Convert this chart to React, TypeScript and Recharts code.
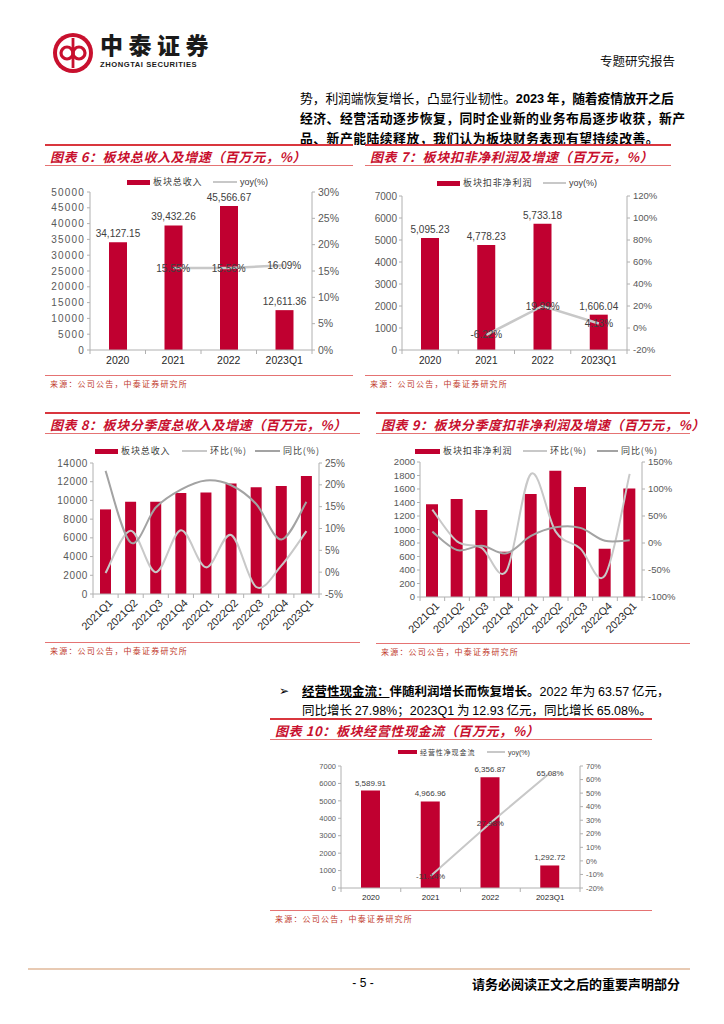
import React from 'react';
import { ComposedChart, Bar, Line, XAxis, YAxis, LabelList } from 'recharts';

// ---------------- data ----------------
const annualCategories = ['2020', '2021', '2022', '2023Q1'];
const quarterCategories = ['2021Q1', '2021Q2', '2021Q3', '2021Q4', '2022Q1', '2022Q2', '2022Q3', '2022Q4', '2023Q1'];

const totalRevenue = [34127.15, 39432.26, 45566.67, 12611.36];
const totalRevenueYoy = [null, 15.55, 15.56, 16.09];

const netProfit = [5095.23, 4778.23, 5733.18, 1606.04];
const netProfitYoy = [null, -6.22, 19.99, 4.13];

const quarterRevenue = [9040, 9850, 9850, 10800, 10850, 11800, 11400, 11550, 12611.36];
const quarterRevenueQoq = [-0.2, 9.5, 0.0, 9.6, 1.1, 8.5, -3.4, 1.5, 9.4];
const quarterRevenueYoy = [23.2, 6.8, 14.8, 18.9, 21.0, 19.9, 15.6, 7.5, 16.09];

const quarterProfit = [1373, 1452, 1289, 671, 1526, 1871, 1630, 715, 1606.04];
const quarterProfitQoq = [62, 3, -9, -52, 128, 21, -10, -60, 128];
const quarterProfitYoy = [21, -13, -5, -19, 13, 29, 28, 4, 5];

const operatingCash = [5589.91, 4966.96, 6356.87, 1292.72];
const operatingCashYoy = [null, -11.14, 27.98, 65.08];

const ticks6L = [0, 5000, 10000, 15000, 20000, 25000, 30000, 35000, 40000, 45000, 50000];
const ticks6R = [0, 5, 10, 15, 20, 25, 30];
const ticks7L = [0, 1000, 2000, 3000, 4000, 5000, 6000, 7000];
const ticks7R = [-20, 0, 20, 40, 60, 80, 100, 120];
const ticks8L = [0, 2000, 4000, 6000, 8000, 10000, 12000, 14000];
const ticks8R = [-5, 0, 5, 10, 15, 20, 25];
const ticks9L = [0, 200, 400, 600, 800, 1000, 1200, 1400, 1600, 1800, 2000];
const ticks9R = [-100, -50, 0, 50, 100, 150];
const ticks10L = [0, 1000, 2000, 3000, 4000, 5000, 6000, 7000];
const ticks10R = [-20, -10, 0, 10, 20, 30, 40, 50, 60, 70];

// ---------------- styles ----------------
const RED = '#c00030';
const TITLE_RED = '#c8102e';
const LINE_RED = '#d9363e';
const THIN_RED = '#e57373';
const AXIS = '#b0b0b0';
const TICK = '#595959';
const LABEL = '#404040';
const YOY_GREY = '#c8c8c8';
const DARK_GREY = '#a3a3a3';
const NUM_FONT = '"Liberation Sans", Arial, sans-serif';
const CJK_FONT = '"Noto Sans CJK SC", "Noto Sans", sans-serif';

// Excel-like smoothed line (Catmull-Rom through points)
const excelSmooth: any = (context: any) => {
  let pts: number[][] = [];
  return {
    areaStart() {},
    areaEnd() {},
    lineStart() { pts = []; },
    point(x: number, y: number) { pts.push([+x, +y]); },
    lineEnd() {
      if (!pts.length) return;
      context.moveTo(pts[0][0], pts[0][1]);
      for (let i = 0; i < pts.length - 1; i++) {
        const p0 = pts[i - 1] || pts[i];
        const p1 = pts[i];
        const p2 = pts[i + 1];
        const p3 = pts[i + 2] || p2;
        context.bezierCurveTo(
          p1[0] + (p2[0] - p0[0]) / 6, p1[1] + (p2[1] - p0[1]) / 6,
          p2[0] - (p3[0] - p1[0]) / 6, p2[1] - (p3[1] - p1[1]) / 6,
          p2[0], p2[1]
        );
      }
    },
  };
};

const fmtThousands = (v: any) =>
  typeof v === 'number' ? v.toLocaleString('en-US', { minimumFractionDigits: 2, maximumFractionDigits: 2 }) : '';

const centerLabel = (font: number) => (p: any) => {
  const x = p.x ?? p.viewBox?.x;
  const y = p.y ?? p.viewBox?.y;
  if (p.value == null || x == null || y == null) return null;
  return (
    <text x={x} y={y} dy={font * 0.36} textAnchor="middle" fontSize={font} fill={LABEL} fontFamily={NUM_FONT}>
      {Number(p.value).toFixed(2)}%
    </text>
  );
};

const makeXTick = (band: number, n: number, font: number, rotate: boolean) => (p: any) => {
  const { x, y } = p;
  const idx = p.payload?.index ?? p.index ?? 0;
  const lx = x - band / 2;
  return (
    <g>
      <line x1={lx} y1={y} x2={lx} y2={y + 4} stroke={AXIS} />
      {idx === n - 1 && <line x1={x + band / 2} y1={y} x2={x + band / 2} y2={y + 4} stroke={AXIS} />}
      {rotate ? (
        <text
          x={x + 5}
          y={y + 7}
          dy="0.35em"
          transform={`rotate(-45 ${x + 5} ${y + 7})`}
          textAnchor="end"
          fontSize={font}
          fill="#1f1f1f"
          fontFamily={NUM_FONT}
        >
          {p.payload.value}
        </text>
      ) : (
        <text x={x} y={y + 6} dy={font * 0.8} textAnchor="middle" fontSize={font} fill="#262626" fontFamily={NUM_FONT}>
          {p.payload.value}
        </text>
      )}
    </g>
  );
};

type LineCfg = { key: string; values: (number | null)[]; color: string; smooth?: boolean; labels?: boolean };

type ChartCfg = {
  left: number; top: number; width: number; height: number;
  plotLeft: number; plotRight: number; plotTop: number; plotBottom: number;
  cats: string[]; bars: number[]; lines: LineCfg[];
  ticksL: number[]; ticksR: number[];
  barSize: number; barLabels: boolean;
  fontL: number; fontR: number; lsL?: number; fontX: number; rotate?: boolean; labelFont: number;
  strokeW: number;
};

function FigChart(c: ChartCfg) {
  const data = c.cats.map((cat, i) => {
    const row: any = { cat, bar: c.bars[i] };
    c.lines.forEach((l) => { row[l.key] = l.values[i]; });
    return row;
  });
  const band = (c.plotRight - c.plotLeft) / c.cats.length;
  return (
    <div style={{ position: 'absolute', left: c.left, top: c.top, width: c.width, height: c.height }}>
      <ComposedChart
        width={c.width}
        height={c.height}
        data={data}
        margin={{ top: c.plotTop - c.top, right: 0, bottom: 0, left: 0 }}
      >
        <XAxis
          dataKey="cat"
          height={c.top + c.height - c.plotBottom}
          interval={0}
          tickSize={0}
          tickMargin={0}
          tickLine={false}
          axisLine={{ stroke: AXIS }}
          tick={makeXTick(band, c.cats.length, c.fontX, !!c.rotate)}
        />
        <YAxis
          yAxisId="l"
          width={c.plotLeft - c.left}
          domain={[c.ticksL[0], c.ticksL[c.ticksL.length - 1]]}
          ticks={c.ticksL}
          interval={0}
          tickSize={3}
          tickMargin={2}
          axisLine={{ stroke: AXIS }}
          tickLine={{ stroke: AXIS }}
          tick={{ fill: TICK, fontSize: c.fontL, fontFamily: NUM_FONT, letterSpacing: c.lsL || 0 }}
        />
        <YAxis
          yAxisId="r"
          orientation="right"
          width={c.left + c.width - c.plotRight}
          domain={[c.ticksR[0], c.ticksR[c.ticksR.length - 1]]}
          ticks={c.ticksR}
          interval={0}
          tickSize={3}
          tickMargin={3}
          axisLine={{ stroke: AXIS }}
          tickLine={{ stroke: AXIS }}
          tickFormatter={(v: number) => `${v}%`}
          tick={{ fill: TICK, fontSize: c.fontR, fontFamily: NUM_FONT }}
        />
        <Bar yAxisId="l" dataKey="bar" fill={RED} barSize={c.barSize} isAnimationActive={false}>
          {c.barLabels && (
            <LabelList
              dataKey="bar"
              position="top"
              offset={5}
              formatter={fmtThousands}
              fontSize={c.labelFont}
              fill={LABEL}
              fontFamily={NUM_FONT}
            />
          )}
        </Bar>
        {c.lines.map((l) => (
          <Line
            key={l.key}
            yAxisId="r"
            dataKey={l.key}
            stroke={l.color}
            strokeWidth={c.strokeW}
            type={l.smooth ? excelSmooth : 'linear'}
            dot={false}
            activeDot={false}
            isAnimationActive={false}
          >
            {l.labels && <LabelList dataKey={l.key} content={centerLabel(c.labelFont)} />}
          </Line>
        ))}
      </ComposedChart>
    </div>
  );
}

// ---------------- page helpers ----------------
function Txt(props: { x: number; y: number; size: number; children: any; style?: any; right?: boolean }) {
  const lh = Math.round(props.size * 1.3);
  const pos: any = props.right ? { right: 724 - props.x } : { left: props.x };
  return (
    <div
      style={{
        position: 'absolute',
        top: props.y - lh / 2,
        ...pos,
        fontSize: props.size,
        lineHeight: `${lh}px`,
        whiteSpace: 'nowrap',
        fontFamily: CJK_FONT,
        ...props.style,
      }}
    >
      {props.children}
    </div>
  );
}

function HLine({ x1, x2, y, h, color }: { x1: number; x2: number; y: number; h: number; color: string }) {
  return <div style={{ position: 'absolute', left: x1, top: y - h / 2, width: x2 - x1, height: h, background: color }} />;
}

function Block({ x1, x2, topY, title, bottomY }: { x1: number; x2: number; topY: number; title: string; bottomY: number }) {
  return (
    <>
      <HLine x1={x1} x2={x2} y={topY} h={2} color={LINE_RED} />
      <Txt x={x1 + 5} y={topY + 11} size={13} style={{ color: TITLE_RED, fontWeight: 700, fontStyle: 'italic', letterSpacing: 0.6 }}>
        {title}
      </Txt>
      <HLine x1={x1} x2={x2} y={topY + 20} h={1} color={THIN_RED} />
      <HLine x1={x1} x2={x2} y={bottomY} h={1} color={THIN_RED} />
      <Txt x={x1 + 5} y={bottomY + 9} size={8} style={{ color: '#c0392b', letterSpacing: 1.2 }}>
        来源：公司公告，中泰证券研究所
      </Txt>
    </>
  );
}

type LegItem = { kind: 'bar' | 'line'; color: string; x1: number; x2: number; label: string };

function LegendRow({ y, items, font, barH }: { y: number; items: LegItem[]; font: number; barH: number }) {
  return (
    <>
      {items.map((it, i) => (
        <React.Fragment key={i}>
          <div
            style={{
              position: 'absolute',
              left: it.x1,
              top: y - (it.kind === 'bar' ? barH : 2.4) / 2,
              width: it.x2 - it.x1,
              height: it.kind === 'bar' ? barH : 2.4,
              background: it.color,
            }}
          />
          <Txt
            x={it.x2 + 3}
            y={y}
            size={font}
            style={{
              color: LABEL,
              letterSpacing: /[a-z]/.test(it.label) ? 0 : 0.9,
              fontFamily: /[a-z]/.test(it.label) ? NUM_FONT : CJK_FONT,
            }}
          >
            {it.label}
          </Txt>
        </React.Fragment>
      ))}
    </>
  );
}

function Logo() {
  return (
    <svg style={{ position: 'absolute', left: 50, top: 30 }} width={46} height={46} viewBox="0 0 46 46">
      <circle cx={23} cy={23} r={20} fill="#c8102e" />
      <circle cx={23} cy={23} r={16} fill="#fff" />
      <circle cx={17} cy={23} r={6} fill="none" stroke="#c8102e" strokeWidth={3.2} />
      <circle cx={29} cy={23} r={6} fill="none" stroke="#c8102e" strokeWidth={3.2} />
      <rect x={21.6} y={8} width={2.8} height={30} fill="#c8102e" />
    </svg>
  );
}

export default function App() {
  return (
    <div style={{ position: 'absolute', left: 0, top: 0, width: 724, height: 1024, background: '#fff', overflow: 'hidden', color: '#000' }}>
      {/* header */}
      <Logo />
      <Txt x={100} y={44} size={23} style={{ fontWeight: 900, letterSpacing: 5.5, color: '#1a1a1a' }}>中泰证券</Txt>
      <Txt x={100} y={64.5} size={7.6} style={{ fontWeight: 700, fontFamily: NUM_FONT, letterSpacing: 0.55, color: '#1a1a1a' }}>
        ZHONGTAI SECURITIES
      </Txt>
      <Txt x={675} y={61} size={12.5} right style={{ color: '#111' }}>专题研究报告</Txt>

      {/* top body text */}
      <Txt x={300} y={97.5} size={12.8} style={{ letterSpacing: -0.1 }}>
        势，利润端恢复增长，凸显行业韧性。<b><span style={{ fontFamily: NUM_FONT }}>2023</span> 年，随着疫情放开之后</b>
      </Txt>
      <Txt x={300} y={117.5} size={12.8} style={{ letterSpacing: 0.5, fontWeight: 700 }}>
        经济、经营活动逐步恢复，同时企业新的业务布局逐步收获，新产
      </Txt>
      <Txt x={300} y={137} size={12.8} style={{ letterSpacing: 0.5, fontWeight: 700 }}>
        品、新产能陆续释放，我们认为板块财务表现有望持续改善。
      </Txt>

      {/* chart 6 */}
      <Block x1={45} x2={353} topY={145} title="图表 6：板块总收入及增速（百万元，%）" bottomY={375} />
      <LegendRow
        y={182}
        font={9}
        barH={5}
        items={[
          { kind: 'bar', color: RED, x1: 127, x2: 150, label: '板块总收入' },
          { kind: 'line', color: YOY_GREY, x1: 213, x2: 237, label: 'yoy(%)' },
        ]}
      />
      <FigChart
        left={45} top={170} width={307} height={205}
        plotLeft={90} plotRight={312} plotTop={192} plotBottom={350}
        cats={annualCategories} bars={totalRevenue}
        lines={[{ key: 'yoy', values: totalRevenueYoy, color: YOY_GREY, labels: true }]}
        ticksL={ticks6L} ticksR={ticks6R}
        barSize={18} barLabels
        fontL={10} lsL={1.2} fontR={10.5} fontX={10.5} labelFont={10} strokeW={2.5}
      />

      {/* chart 7 */}
      <Block x1={365} x2={671} topY={145} title="图表 7：板块扣非净利润及增速（百万元，%）" bottomY={375} />
      <LegendRow
        y={183}
        font={9}
        barH={5}
        items={[
          { kind: 'bar', color: RED, x1: 437, x2: 460, label: '板块扣非净利润' },
          { kind: 'line', color: YOY_GREY, x1: 543, x2: 566, label: 'yoy(%)' },
        ]}
      />
      <FigChart
        left={362} top={170} width={305} height={205}
        plotLeft={402} plotRight={627} plotTop={196} plotBottom={350}
        cats={annualCategories} bars={netProfit}
        lines={[{ key: 'yoy', values: netProfitYoy, color: YOY_GREY, labels: true }]}
        ticksL={ticks7L} ticksR={ticks7R}
        barSize={18} barLabels
        fontL={10} fontR={9.5} fontX={10} labelFont={10} strokeW={2.5}
      />

      {/* chart 8 */}
      <Block x1={45} x2={360} topY={413} title="图表 8：板块分季度总收入及增速（百万元，%）" bottomY={642} />
      <LegendRow
        y={451}
        font={9}
        barH={5}
        items={[
          { kind: 'bar', color: RED, x1: 95, x2: 118, label: '板块总收入' },
          { kind: 'line', color: YOY_GREY, x1: 182, x2: 207, label: '环比(%)' },
          { kind: 'line', color: DARK_GREY, x1: 255, x2: 280, label: '同比(%)' },
        ]}
      />
      <FigChart
        left={45} top={440} width={315} height={200}
        plotLeft={93} plotRight={319} plotTop={463} plotBottom={594}
        cats={quarterCategories} bars={quarterRevenue}
        lines={[
          { key: 'qoq', values: quarterRevenueQoq, color: YOY_GREY, smooth: true },
          { key: 'yoy', values: quarterRevenueYoy, color: DARK_GREY, smooth: true },
        ]}
        ticksL={ticks8L} ticksR={ticks8R}
        barSize={11} barLabels={false}
        fontL={10} lsL={0.6} fontR={10} fontX={10.8} rotate labelFont={10} strokeW={2}
      />

      {/* chart 9 */}
      <Block x1={376} x2={690} topY={413} title="图表 9：板块分季度扣非净利润及增速（百万元，%）" bottomY={643} />
      <LegendRow
        y={451}
        font={9}
        barH={5}
        items={[
          { kind: 'bar', color: RED, x1: 415, x2: 440, label: '板块扣非净利润' },
          { kind: 'line', color: YOY_GREY, x1: 523, x2: 547, label: '环比(%)' },
          { kind: 'line', color: DARK_GREY, x1: 597, x2: 618, label: '同比(%)' },
        ]}
      />
      <FigChart
        left={376} top={440} width={314} height={200}
        plotLeft={420} plotRight={642} plotTop={462} plotBottom={597}
        cats={quarterCategories} bars={quarterProfit}
        lines={[
          { key: 'qoq', values: quarterProfitQoq, color: YOY_GREY, smooth: true },
          { key: 'yoy', values: quarterProfitYoy, color: DARK_GREY, smooth: true },
        ]}
        ticksL={ticks9L} ticksR={ticks9R}
        barSize={12} barLabels={false}
        fontL={9.5} fontR={9.5} fontX={10.8} rotate labelFont={10} strokeW={2}
      />

      {/* bullet text */}
      <Txt x={279} y={691} size={12} style={{ fontFamily: '"DejaVu Sans", sans-serif' }}>➢</Txt>
      <Txt x={302} y={691} size={12.5}>
        <b><u>经营性现金流：</u>伴随利润增长而恢复增长。</b>
        <span style={{ fontFamily: NUM_FONT }}>2022</span> 年为 <span style={{ fontFamily: NUM_FONT }}>63.57</span> 亿元，
      </Txt>
      <Txt x={302} y={710} size={12.5}>
        同比增长 <span style={{ fontFamily: NUM_FONT }}>27.98%</span>；<span style={{ fontFamily: NUM_FONT }}>2023Q1</span> 为{' '}
        <span style={{ fontFamily: NUM_FONT }}>12.93</span> 亿元，同比增长 <span style={{ fontFamily: NUM_FONT }}>65.08%</span>。
      </Txt>

      {/* chart 10 */}
      <Block x1={270} x2={652} topY={719} title="图表 10：板块经营性现金流（百万元，%）" bottomY={910} />
      <LegendRow
        y={752}
        font={7}
        barH={3.5}
        items={[
          { kind: 'bar', color: RED, x1: 398, x2: 417, label: '经营性净现金流' },
          { kind: 'line', color: YOY_GREY, x1: 487, x2: 505, label: 'yoy(%)' },
        ]}
      />
      <FigChart
        left={270} top={745} width={382} height={165}
        plotLeft={341} plotRight={580} plotTop={766} plotBottom={888}
        cats={annualCategories} bars={operatingCash}
        lines={[{ key: 'yoy', values: operatingCashYoy, color: YOY_GREY, labels: true }]}
        ticksL={ticks10L} ticksR={ticks10R}
        barSize={19} barLabels
        fontL={7.5} fontR={7.5} fontX={8} labelFont={8} strokeW={2}
      />

      {/* footer */}
      <HLine x1={28} x2={690} y={969} h={2} color="#e8cab3" />
      <Txt x={363} y={983} size={12} style={{ fontFamily: NUM_FONT, transform: 'translateX(-50%)' }}>- 5 -</Txt>
      <Txt x={680} y={983} size={13} right style={{ fontWeight: 700 }}>请务必阅读正文之后的重要声明部分</Txt>
    </div>
  );
}
